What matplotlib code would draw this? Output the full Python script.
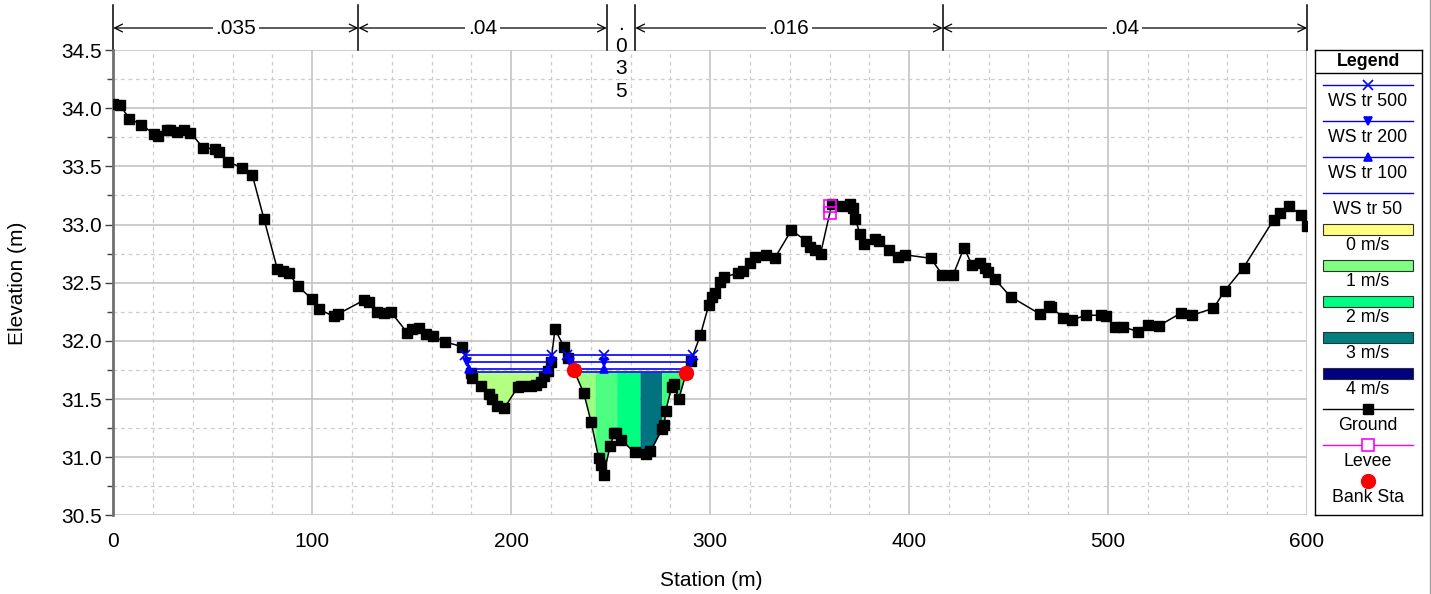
import numpy as np
import matplotlib
matplotlib.use("Agg")
import matplotlib.pyplot as plt
from matplotlib.colors import LinearSegmentedColormap
from matplotlib.lines import Line2D
from matplotlib.patches import Rectangle
from matplotlib.transforms import blended_transform_factory
from matplotlib.ticker import MultipleLocator

plt.rcParams['font.family'] = ['Liberation Sans', 'DejaVu Sans']

# --- ground profile (station m, elevation m) ---
station = [0.0, 3.2, 8.1, 14.1, 20.3, 22.3, 27.0, 28.7, 32.0, 35.4, 38.8, 45.1, 51.3, 53.0,
           57.5, 64.6, 69.8, 75.7, 82.4, 85.4, 88.3, 92.8, 99.8, 103.5, 110.9, 112.9, 126.0,
           128.5, 132.4, 136.1, 139.4, 147.8, 150.3, 153.7, 157.0, 160.7, 166.8, 175.5, 179.7,
           180.5, 184.7, 189.0, 190.6, 193.1, 196.5, 203.2, 204.9, 209.9, 212.4, 214.9, 216.6,
           218.3, 220.0, 222.0, 226.5, 228.6, 231.4, 236.5, 240.2, 244.0, 245.0, 246.4, 249.8,
           251.8, 252.7, 255.2, 262.0, 268.0, 270.0, 275.8, 276.9, 277.7, 280.6, 281.7, 284.2,
           287.9, 290.4, 295.1, 299.3, 300.8, 302.2, 305.2, 306.9, 313.9, 316.7, 319.8, 322.6,
           328.2, 332.4, 340.8, 348.3, 350.0, 352.5, 355.5, 361.2, 366.4, 370.1, 371.8, 373.0,
           375.2, 377.4, 382.7, 384.7, 389.7, 394.4, 397.8, 410.9, 416.6, 422.2, 427.6, 431.7,
           435.5, 438.1, 439.8, 443.1, 451.0, 465.8, 470.4, 471.3, 477.5, 482.0, 488.7, 496.5,
           498.8, 503.5, 507.7, 514.9, 520.3, 525.6, 536.7, 542.1, 553.0, 558.6, 568.1, 583.2,
           586.5, 591.1, 597.0, 600.0]
elevation = [34.04, 34.03, 33.91, 33.86, 33.78, 33.76, 33.81, 33.81, 33.80, 33.81, 33.79, 33.66,
             33.65, 33.62, 33.54, 33.49, 33.43, 33.05, 32.62, 32.60, 32.58, 32.47, 32.36, 32.27,
             32.21, 32.23, 32.35, 32.33, 32.25, 32.24, 32.25, 32.07, 32.10, 32.11, 32.06, 32.04,
             31.99, 31.95, 31.72, 31.68, 31.61, 31.54, 31.50, 31.44, 31.42, 31.60, 31.61, 31.61,
             31.62, 31.65, 31.70, 31.74, 31.82, 32.10, 31.95, 31.85, 31.75, 31.55, 31.30, 30.99,
             30.93, 30.85, 31.10, 31.21, 31.21, 31.15, 31.04, 31.03, 31.05, 31.24, 31.28, 31.40,
             31.60, 31.63, 31.50, 31.72, 31.83, 32.05, 32.31, 32.38, 32.41, 32.51, 32.55, 32.58,
             32.60, 32.67, 32.72, 32.74, 32.71, 32.95, 32.86, 32.81, 32.78, 32.75, 33.18, 33.16,
             33.18, 33.14, 33.05, 32.92, 32.83, 32.88, 32.86, 32.78, 32.72, 32.74, 32.71, 32.57,
             32.57, 32.80, 32.65, 32.67, 32.63, 32.59, 32.53, 32.38, 32.23, 32.30, 32.29, 32.20,
             32.18, 32.22, 32.22, 32.21, 32.12, 32.12, 32.08, 32.14, 32.13, 32.24, 32.22, 32.28,
             32.43, 32.63, 33.04, 33.10, 33.16, 33.08, 32.99]

# water surface profiles
ws_names = ["WS tr 500", "WS tr 200", "WS tr 100", "WS tr 50"]
ws_levels = [31.88, 31.82, 31.76, 31.73]
ws_markers = ["x", "v", "^", None]

# manning n regions
n_breaks = [0.0, 123.2, 248.0, 262.4, 416.8, 600.0]
n_values = [".035", ".04", ".035", ".016", ".04"]

# velocity distribution for lowest profile (slice edges, m/s)
vel_edges = [170.0, 222.0, 242.1, 253.0, 264.7, 275.6, 300.0]
vel_values = [0.6, 0.8, 1.4, 2.0, 3.1, 1.5]
vel_legend = [0, 1, 2, 3, 4]

bank_sta = [231.4, 287.9]
levee_sta = [360.0, 360.0]
levee_elev = [33.16, 33.10]

W, H = 1431, 594
FS = 15
LFS = 12.8
vel_cmap = LinearSegmentedColormap.from_list(
    "vel", [(0, "#ffff80"), (0.25, "#80ff80"), (0.5, "#00ff80"), (0.75, "#008080"), (1, "#000080")])


def wet_intervals(x, y, h):
    x = np.asarray(x); y = np.asarray(y)
    below = y < h
    out, start = [], None
    for i in range(len(x) - 1):
        if below[i] != below[i + 1]:
            xc = x[i] + (h - y[i]) * (x[i + 1] - x[i]) / (y[i + 1] - y[i])
            if below[i + 1]:
                start = xc
            else:
                out.append((start, xc))
    return out


fig = plt.figure(figsize=(W / 100, H / 100), dpi=100)
ax = fig.add_axes([113.3 / W, 1 - 515.3 / H, (1307 - 113.3) / W, (515.3 - 50.1) / H])
ax.set_xlim(0, 600)
ax.set_ylim(30.5, 34.5)

# grid
ax.xaxis.set_major_locator(MultipleLocator(100))
ax.xaxis.set_minor_locator(MultipleLocator(20))
ax.yaxis.set_major_locator(MultipleLocator(0.5))
ax.yaxis.set_minor_locator(MultipleLocator(0.25))
ax.grid(which="major", color="#c4c4c4", lw=1.2, ls="-", zorder=0)
ax.grid(which="minor", color="#cccccc", lw=0.9, ls=(0, (3, 3)), zorder=0)
ax.set_axisbelow(True)
for s in ["top", "right", "bottom"]:
    ax.spines[s].set_visible(False)
ax.spines["left"].set_color("#707070")
ax.spines["left"].set_linewidth(2)
ax.yaxis.set_major_formatter(matplotlib.ticker.FormatStrFormatter("%.1f"))
ax.tick_params(axis="y", which="major", length=6, width=1, color="#404040", pad=2, labelsize=FS)
ax.tick_params(axis="y", which="minor", length=4, width=1, color="#404040")
ax.tick_params(axis="x", which="both", length=0, pad=12, labelsize=FS)

st = np.array(station)
el = np.array(elevation)

# velocity fill for the lowest profile
h_low = ws_levels[-1]
for a, b, v in zip(vel_edges[:-1], vel_edges[1:], vel_values):
    xg = np.union1d(np.linspace(a, b, 400), st[(st > a) & (st < b)])
    g = np.interp(xg, st, el)
    ax.fill_between(xg, g, h_low, where=g < h_low, interpolate=True,
                    color=vel_cmap(v / 4), lw=0, zorder=1)

# ground
ax.plot(st, el, color="black", lw=1.1, marker="s", ms=6.8, zorder=3)

# water surfaces
in_bank = (st >= bank_sta[0]) & (st <= bank_sta[1])
thalweg = st[in_bank][np.argmin(el[in_bank])]
for name, h, mk in zip(ws_names, ws_levels, ws_markers):
    for a, b in wet_intervals(st, el, h):
        ax.plot([a, b], [h, h], color="#0000ff", lw=1.2, zorder=4)
        if mk:
            pts = [a, b] + ([thalweg] if a < thalweg < b else [])
            ax.plot(pts, [h] * len(pts), ls="none", marker=mk, color="#0000ff",
                    ms=6.5 if mk == "x" else 6, mew=1.2, zorder=4)

# levee and bank stations
ax.plot(levee_sta, levee_elev, ls="none", marker="s", ms=9, mfc="none", mec="#ff00ff",
        mew=1.2, zorder=5)
bank_el = np.interp(bank_sta, st, el)
ax.plot(bank_sta, bank_el, ls="none", marker="o", ms=10, color="#ff0000", zorder=5)

# manning n annotations above the plot
trans = blended_transform_factory(ax.transData, fig.transFigure)
y_top, y_bot, y_arr = 1 - 5 / H, 1 - 50 / H, 1 - 28 / H
for xb in n_breaks:
    ax.plot([xb, xb], [y_top, y_bot], transform=trans, color="black", lw=1.1, clip_on=False)
for a, b, nv in zip(n_breaks[:-1], n_breaks[1:], n_values):
    mid = (a + b) / 2
    if b - a > 30:
        ax.annotate("", xy=(a, y_arr), xytext=(b, y_arr), xycoords=trans, textcoords=trans,
                    arrowprops=dict(arrowstyle="<->", lw=0.9, shrinkA=0, shrinkB=0,
                                    mutation_scale=14, color="black"))
        ax.text(mid, y_arr, nv, transform=trans, ha="center", va="center", fontsize=FS,
                bbox=dict(facecolor="white", edgecolor="none", pad=2))
    else:
        for i, ch in enumerate(nv):
            ax.text(mid, 1 - (24 + 22.5 * i) / H, ch, transform=trans, ha="center",
                    va="center", fontsize=FS)

fig.text(18 / W, 1 - 283 / H, "Elevation (m)", rotation=90, ha="center", va="center",
         fontsize=FS)
fig.text(711 / W, 1 - 580 / H, "Station (m)", ha="center", va="center", fontsize=FS)

# legend box drawn in pixel units
lx0, lx1, ly0, ly1 = 1315, 1422, 50, 515
leg = fig.add_axes([lx0 / W, 1 - ly1 / H, (lx1 - lx0) / W, (ly1 - ly0) / H])
leg.set_xlim(lx0, lx1)
leg.set_ylim(ly1, ly0)
leg.set_xticks([])
leg.set_yticks([])
for s in leg.spines.values():
    s.set_linewidth(1)
    s.set_color("black")
leg.text((lx0 + lx1) / 2, 61, "Legend", ha="center", va="center", fontsize=LFS,
         fontweight="bold")
leg.plot([lx0, lx1], [73, 73], color="black", lw=1)
sx0, sx1 = 1323, 1413
sxm = (sx0 + sx1) / 2
row = 0
for name, mk in zip(ws_names, ws_markers):
    y = 85 + 36 * row
    leg.plot([sx0, sx1], [y, y], color="#0000ff", lw=1)
    if mk:
        leg.plot([sxm], [y], marker=mk, color="#0000ff", ms=6.5 if mk == "x" else 6, mew=1.2)
    leg.text(sxm, y + 17, name, ha="center", va="center", fontsize=LFS)
    row += 1
for v in vel_legend:
    y = 85 + 36 * row
    leg.add_patch(Rectangle((sx0, y - 5.5), sx1 - sx0, 11, facecolor=vel_cmap(v / 4),
                            edgecolor="#303030", lw=0.8))
    leg.text(sxm, y + 17, f"{v} m/s", ha="center", va="center", fontsize=LFS)
    row += 1
y = 85 + 36 * row
leg.plot([sx0, sx1], [y, y], color="black", lw=1)
leg.plot([sxm], [y], marker="s", color="black", ms=6.8)
leg.text(sxm, y + 17, "Ground", ha="center", va="center", fontsize=LFS)
row += 1
y = 85 + 36 * row
leg.plot([sx0, sx1], [y, y], color="#ff00ff", lw=1)
leg.plot([sxm], [y], marker="s", ms=9, mfc="white", mec="#ff00ff", mew=1.2)
leg.text(sxm, y + 17, "Levee", ha="center", va="center", fontsize=LFS)
row += 1
y = 85 + 36 * row
leg.plot([sxm], [y], marker="o", color="#ff0000", ms=10)
leg.text(sxm, y + 16, "Bank Sta", ha="center", va="center", fontsize=LFS)

fig.add_artist(Line2D([1429.5 / W, 1429.5 / W], [0, 1], color="#a0a0a0", lw=1))

fig.savefig("out.png", dpi=100)
